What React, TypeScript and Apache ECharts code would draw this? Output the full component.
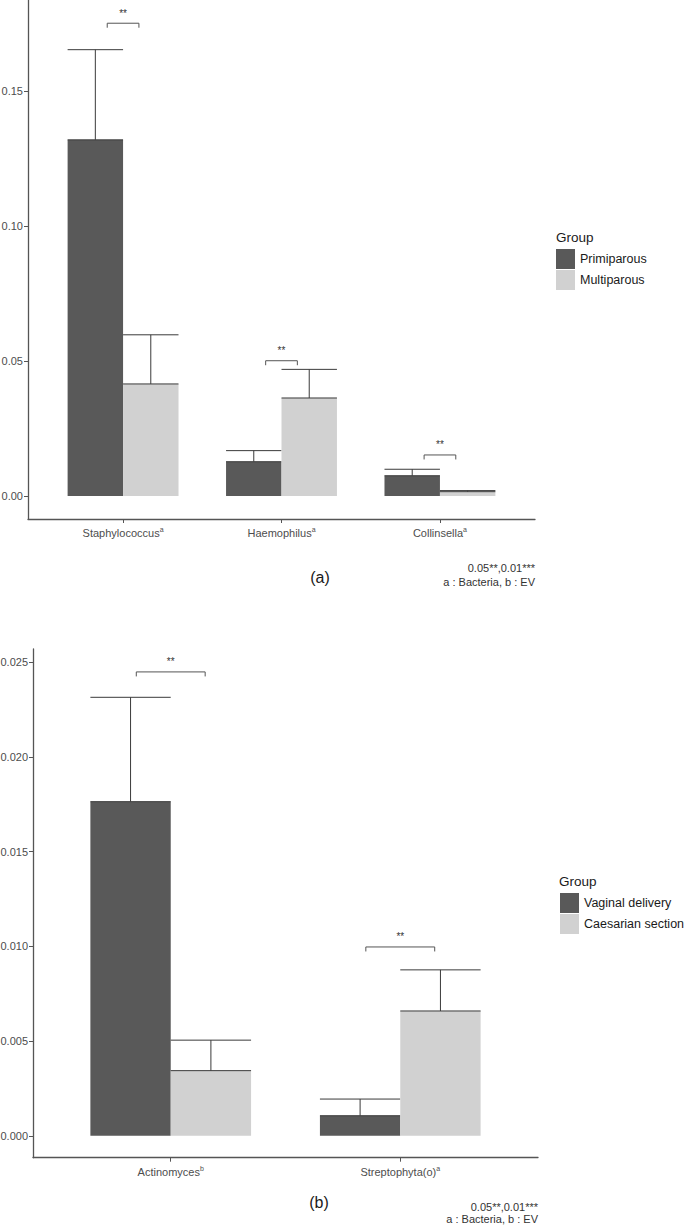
import React, { useEffect, useRef } from "react";
import * as echarts from "echarts";

// ---------- Data ----------
const categoriesA = ["Staphylococcus", "Haemophilus", "Collinsella"];
const superscriptsA = ["a", "a", "a"];
const primiparousMean = [0.1319, 0.0127, 0.0075];
const primiparousSE = [0.0334, 0.0041, 0.0024];
const multiparousMean = [0.0415, 0.0363, 0.0016];
const multiparousSE = [0.0182, 0.0106, 0.0004];
const sigA = [0.1751, 0.0501, 0.0152];
const sigLabelsA = ["**", "**", "**"];
const yTicksA = [0, 0.05, 0.1, 0.15];

const categoriesB = ["Actinomyces", "Streptophyta(o)"];
const superscriptsB = ["b", "a"];
const vaginalMean = [0.01764, 0.00106];
const vaginalSE = [0.00551, 0.00088];
const caesarianMean = [0.00344, 0.00659];
const caesarianSE = [0.00161, 0.00217];
const sigB = [0.02449, 0.00997];
const sigLabelsB = ["**", "**"];
const yTicksB = [0, 0.005, 0.01, 0.015, 0.02, 0.025];

const groupsA = ["Primiparous", "Multiparous"];
const groupsB = ["Vaginal delivery", "Caesarian section"];
const noteLines = ["0.05**,0.01***", "a : Bacteria, b : EV"];

// ---------- Styles ----------
const FONT = "'Liberation Sans', Arial, Helvetica, sans-serif";
const DARK = "#595959";
const LIGHT = "#d1d1d1";
const ERR = "#3a3a3a";
const AXIS = "#555555";
const LABEL = "#4d4d4d";
const DODGE = 0.35;

function toData(means: number[], ses: number[]) {
  return means.map((m, i) => [i + 1, m, ses[i]]);
}

function barRenderer(o0: number, o1: number, color: string) {
  return (_params: any, api: any) => {
    const c = api.value(0);
    const m = api.value(1);
    const se = api.value(2);
    const base = api.coord([c + o0, 0]);
    const topR = api.coord([c + o1, m]);
    const mid = c + (o0 + o1) / 2;
    const pm = api.coord([mid, m]);
    const pe = api.coord([mid, m + se]);
    const left = base[0];
    const right = topR[0];
    const ls = { stroke: ERR, lineWidth: 1 };
    return {
      type: "group",
      children: [
        {
          type: "rect",
          shape: { x: left, y: topR[1], width: right - left, height: base[1] - topR[1] },
          style: { fill: color },
        },
        { type: "line", shape: { x1: pm[0], y1: pm[1], x2: pe[0], y2: pe[1] }, style: ls },
        { type: "line", shape: { x1: left, y1: pe[1], x2: right, y2: pe[1] }, style: ls },
        { type: "line", shape: { x1: left, y1: pm[1], x2: right, y2: pm[1] }, style: ls },
      ],
    };
  };
}

function sigRenderer(half: number, labels: string[]) {
  return (params: any, api: any) => {
    const c = api.value(0);
    const y = api.value(1);
    const p0 = api.coord([c - half, y]);
    const p1 = api.coord([c + half, y]);
    return {
      type: "group",
      children: [
        {
          type: "polyline",
          shape: {
            points: [
              [p0[0], p0[1] + 4.5],
              [p0[0], p0[1]],
              [p1[0], p1[1]],
              [p1[0], p1[1] + 4.5],
            ],
          },
          style: { stroke: AXIS, lineWidth: 1, fill: null },
        },
        {
          type: "text",
          x: (p0[0] + p1[0]) / 2,
          y: p0[1] - 10,
          style: {
            text: labels[params.dataIndex],
            align: "center",
            verticalAlign: "middle",
            fontSize: 10,
            fontFamily: FONT,
            fill: "#333333",
          },
        },
      ],
    };
  };
}

function xAxisCfg(gridIndex: number, n: number, cats: string[], sups: string[]) {
  const vals = cats.map((_, i) => i + 1);
  return {
    type: "value",
    gridIndex,
    min: 0.4,
    max: n + 0.6,
    splitLine: { show: false },
    axisLine: { show: true, onZero: false, lineStyle: { color: AXIS, width: 1.3 } },
    axisTick: { show: true, customValues: vals, length: 4, lineStyle: { color: AXIS } },
    axisLabel: {
      customValues: vals,
      margin: 7,
      formatter: (v: number) => {
        const i = Math.round(v) - 1;
        return `{m|${cats[i]}}{s|${sups[i]}}`;
      },
      rich: {
        m: { fontSize: 11, fontFamily: FONT, color: LABEL, lineHeight: 14 },
        s: { fontSize: 7, fontFamily: FONT, color: LABEL, lineHeight: 8, verticalAlign: "top" },
      },
    },
  };
}

function yAxisCfg(gridIndex: number, min: number, max: number, ticks: number[], dec: number) {
  return {
    type: "value",
    gridIndex,
    min,
    max,
    splitLine: { show: false },
    axisLine: { show: true, onZero: false, lineStyle: { color: AXIS, width: 1.3 } },
    axisTick: { show: true, customValues: ticks, length: 4, lineStyle: { color: AXIS } },
    axisLabel: {
      customValues: ticks,
      margin: 5,
      fontSize: 11,
      fontFamily: FONT,
      color: LABEL,
      formatter: (v: number) => v.toFixed(dec),
    },
  };
}

function legendCfg(names: string[], left: number, top: number) {
  return {
    orient: "vertical",
    left,
    top,
    itemWidth: 19,
    itemHeight: 20,
    itemGap: 1,
    selectedMode: false,
    padding: 0,
    textStyle: { fontSize: 12.5, fontFamily: FONT, color: "#1a1a1a" },
    data: [
      { name: names[0], icon: "rect", itemStyle: { color: DARK } },
      { name: names[1], icon: "rect", itemStyle: { color: LIGHT } },
    ],
  };
}

function text(t: string, x: number, y: number, size: number, align: string, color = "#1a1a1a") {
  return {
    type: "text",
    x,
    y,
    style: { text: t, fontSize: size, fontFamily: FONT, fill: color, align, verticalAlign: "middle" },
  };
}

export default function App() {
  const ref = useRef<HTMLDivElement>(null);

  useEffect(() => {
    if (!ref.current) return;
    const chart = echarts.init(ref.current, undefined, { renderer: "svg" });
    const option: any = {
      animation: false,
      grid: [
        { left: 28, top: 0, width: 507, height: 519, containLabel: false, outerBoundsMode: "none" },
        { left: 33, top: 649, width: 505, height: 508.7, containLabel: false, outerBoundsMode: "none" },
      ],
      xAxis: [
        xAxisCfg(0, categoriesA.length, categoriesA, superscriptsA),
        xAxisCfg(1, categoriesB.length, categoriesB, superscriptsB),
      ],
      yAxis: [
        yAxisCfg(0, -0.00852, 0.1837, yTicksA, 2),
        yAxisCfg(1, -0.001156, 0.0257, yTicksB, 3),
      ],
      legend: [legendCfg(groupsA, 556, 249), legendCfg(groupsB, 560, 893)],
      series: [
        {
          type: "custom",
          name: groupsA[0],
          xAxisIndex: 0,
          yAxisIndex: 0,
          itemStyle: { color: DARK },
          encode: { x: 0, y: 1 },
          renderItem: barRenderer(-DODGE, 0, DARK),
          data: toData(primiparousMean, primiparousSE),
        },
        {
          type: "custom",
          name: groupsA[1],
          xAxisIndex: 0,
          yAxisIndex: 0,
          itemStyle: { color: LIGHT },
          encode: { x: 0, y: 1 },
          renderItem: barRenderer(0, DODGE, LIGHT),
          data: toData(multiparousMean, multiparousSE),
        },
        {
          type: "custom",
          name: "sigA",
          xAxisIndex: 0,
          yAxisIndex: 0,
          silent: true,
          encode: { x: 0, y: 1 },
          renderItem: sigRenderer(0.1, sigLabelsA),
          data: sigA.map((y, i) => [i + 1, y]),
        },
        {
          type: "custom",
          name: groupsB[0],
          xAxisIndex: 1,
          yAxisIndex: 1,
          itemStyle: { color: DARK },
          encode: { x: 0, y: 1 },
          renderItem: barRenderer(-DODGE, 0, DARK),
          data: toData(vaginalMean, vaginalSE),
        },
        {
          type: "custom",
          name: groupsB[1],
          xAxisIndex: 1,
          yAxisIndex: 1,
          itemStyle: { color: LIGHT },
          encode: { x: 0, y: 1 },
          renderItem: barRenderer(0, DODGE, LIGHT),
          data: toData(caesarianMean, caesarianSE),
        },
        {
          type: "custom",
          name: "sigB",
          xAxisIndex: 1,
          yAxisIndex: 1,
          silent: true,
          encode: { x: 0, y: 1 },
          renderItem: sigRenderer(0.15, sigLabelsB),
          data: sigB.map((y, i) => [i + 1, y]),
        },
      ],
      graphic: [
        text("Group", 556, 237, 13.5, "left"),
        text("Group", 559, 881, 13.5, "left"),
        text("(a)", 320, 577, 16, "center"),
        text("(b)", 319, 1202, 16, "center"),
        text(noteLines[0], 535, 568, 11, "right", "#333333"),
        text(noteLines[1], 535, 582, 11, "right", "#333333"),
        text(noteLines[0], 538, 1207, 11, "right", "#333333"),
        text(noteLines[1], 538, 1219, 11, "right", "#333333"),
      ],
    };
    chart.setOption(option);
    return () => chart.dispose();
  }, []);

  return (
    <div
      ref={ref}
      style={{ position: "absolute", left: 0, top: 0, width: 685, height: 1226, background: "#ffffff" }}
    />
  );
}
